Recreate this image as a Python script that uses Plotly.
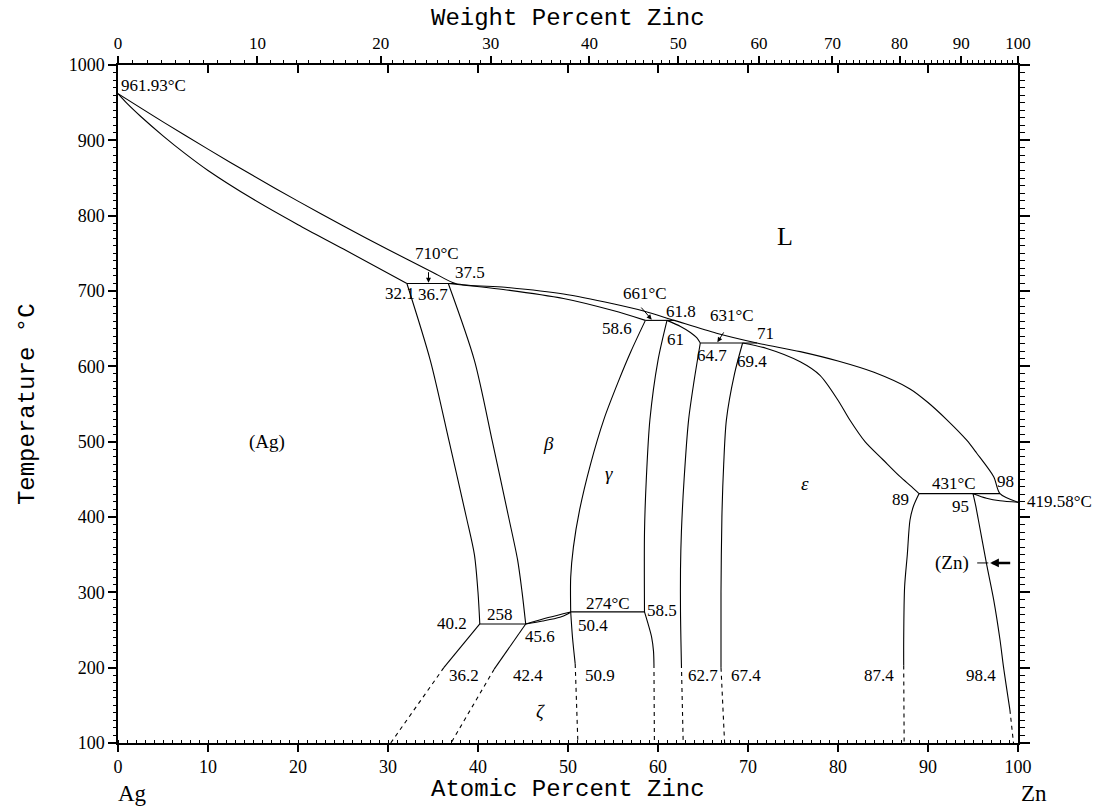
import plotly.graph_objects as go

# ---------------- data (atomic % Zn, temperature °C) ----------------
at_major = list(range(0, 101, 10))
wt_major = list(range(0, 101, 10))
wt_minor = [w for w in range(1, 100) if w % 10]

M_AG, M_ZN = 107.87, 65.38

liq_x = [0, 5, 10, 15, 20, 25, 30, 35, 37.5, 43, 49.5, 55, 58.5, 61.8, 66.5, 71, 75.8, 80, 84, 88, 90, 92.1, 94.3, 95.4, 97.3, 98, 100]
liq_T = [961.93, 924.5, 888.3, 853.2, 819.3, 786.6, 755.1, 724.7, 710, 705, 696, 683, 673, 661, 644, 631, 619.5, 607, 592, 570, 552, 529, 502, 485, 453.5, 431, 419.58]

solAg_x = [0, 1, 2.5, 5, 7.5, 10, 15, 20, 25, 32.1]
solAg_T = [961.93, 949, 932, 906, 882, 860, 822, 788, 756, 710]

solB_x = [36.7, 42.8, 49.5, 55, 58.6]
solB_T = [710, 702, 690, 674, 661]

agsolv_x = [32.1, 34.7, 36.8, 38.7, 39.6, 40.0, 40.2]
agsolv_T = [710, 608, 500, 400, 350, 300, 258]
agsolv_lo_x = [40.2, 36.2]
agsolv_lo_T = [258, 200]
agsolv_d_x = [36.2, 30.3]
agsolv_d_T = [200, 100]

bleft_x = [36.7, 39.6, 41.6, 43.4, 44.4, 44.9, 45.3]
bleft_T = [710, 608, 500, 400, 343, 300, 258]

zleft_x = [45.3, 41.8]
zleft_T = [258, 198]
zleft_d_x = [41.8, 37.0]
zleft_d_T = [198, 100]

lensU_x = [45.3, 47.8, 50.3]
lensU_T = [258, 266.5, 274]
lensL_x = [45.3, 47.2, 49.1, 49.9, 50.3]
lensL_T = [258, 262, 267, 271, 274]

bright_x = [58.6, 57.0, 55.6, 54.0, 52.5, 51.3, 50.6, 50.3, 50.3]
bright_T = [661, 620, 580, 530, 470, 410, 360, 320, 274]

zright_x = [50.3, 50.5, 50.8]
zright_T = [274, 240, 205]
zright_d_x = [50.8, 51.1]
zright_d_T = [205, 100]

gleft_x = [61.0, 60.0, 59.1, 58.7, 58.5, 58.5]
gleft_T = [661, 608, 529, 450, 380, 274]
gleft_lo_x = [58.5, 58.9, 59.3, 59.5, 59.55]
gleft_lo_T = [274, 258, 240, 222, 205]
gleft_d_x = [59.55, 59.6]
gleft_d_T = [205, 100]

gsol_x = [61.0, 62.5, 63.6, 64.3, 64.7]
gsol_T = [661, 653, 645, 638, 631]

gright_x = [64.7, 64.0, 63.4, 62.9, 62.6, 62.5, 62.5, 62.6]
gright_T = [631, 580, 529, 450, 380, 330, 274, 205]
gright_d_x = [62.6, 62.8]
gright_d_T = [205, 100]

eleft_x = [69.4, 68.5, 67.6, 67.3, 67.1, 67.0, 67.0]
eleft_T = [631, 590, 529, 470, 400, 300, 200]
eleft_d_x = [67.0, 67.4]
eleft_d_T = [200, 100]

esol_x = [69.4, 72, 75.8, 78, 80, 81.3, 83, 85, 86.9, 88.2, 89]
esol_T = [631, 624, 606, 588, 555, 529, 500, 476, 453.5, 440, 431]

eright_x = [89, 88.4, 88.0, 87.7, 87.4, 87.3, 87.3]
eright_T = [431, 415, 396, 350, 307, 237, 203]
eright_d_x = [87.3, 87.35]
eright_d_T = [203, 100]

znsol_x = [95, 96.5, 98, 100]
znsol_T = [431, 425, 421.5, 419.58]

znsolv_x = [95, 95.3, 95.6, 96.5, 97.3, 98, 98.4, 99.1]
znsolv_T = [431, 415, 396, 338, 290, 237, 200, 144]
znsolv_d_x = [99.1, 99.5]
znsolv_d_T = [144, 100]

# invariant (horizontal) lines: (x_start, x_end, T)
iso_x0 = [32.1, 40.2, 50.3, 58.6, 64.7, 89.0]
iso_x1 = [37.5, 45.3, 58.5, 61.8, 71.0, 98.0]
iso_T = [710, 258, 274, 661, 631, 431]

# composition / temperature labels
lab_text = ["961.93°C", "710°C", "32.1", "36.7", "37.5", "661°C", "61.8", "58.6", "61",
            "631°C", "71", "64.7", "69.4", "431°C", "98", "89", "95",
            "40.2", "258", "45.6", "274°C", "50.4", "58.5",
            "36.2", "42.4", "50.9", "62.7", "67.4", "87.4", "98.4"]
lab_x = [0.1, 35.4, 31.3, 35.0, 39.1, 58.5, 62.6, 55.4, 61.9,
         68.2, 71.9, 66.0, 70.4, 92.9, 98.6, 86.9, 93.6,
         37.1, 42.4, 46.9, 54.4, 52.8, 60.4,
         38.4, 45.6, 53.5, 65.0, 69.8, 84.6, 95.9]
lab_T = [973, 750, 697, 695, 724, 697, 673, 650, 635,
         668, 644, 615, 606, 444, 447, 423.5, 413.5,
         259, 270, 241, 285.5, 256.6, 276.5,
         190, 190, 190, 190, 190, 190, 190]
lab_anchor = ["left", "center", "center", "center", "center", "center", "center", "center", "center",
              "center", "center", "center", "center", "center", "center", "center", "center",
              "center", "center", "center", "center", "center", "center",
              "center", "center", "center", "center", "center", "center", "center"]

# label beyond the right axis (temperature placed on the data scale)
zn_melt_text = "419.58°C"
zn_melt_T = 420.3

# phase region labels
reg_text = ["L", "(Ag)", "<i>β</i>", "<i>γ</i>", "<i>ε</i>", "<i>ζ</i>", "(Zn)"]
reg_x = [74.1, 16.5, 47.8, 54.6, 76.3, 46.9, 92.7]
reg_T = [772, 499, 497, 458, 445, 141.5, 339]
reg_size = [26, 19, 19, 19, 19, 19, 19]

# ---------------- figure ----------------
SERIF = "Liberation Serif"
MONO = "Liberation Mono"
BLACK = "black"


def wt_to_at(w):
    if w <= 0:
        return 0.0
    if w >= 100:
        return 100.0
    a = w / M_ZN
    b = (100 - w) / M_AG
    return 100 * a / (a + b)


fig = go.Figure()


def add_line(xs, ys, dash="solid", smooth=True):
    fig.add_trace(go.Scatter(
        x=xs, y=ys, mode="lines",
        line=dict(color=BLACK, width=1.1, dash=dash,
                  shape="spline" if smooth and len(xs) > 2 else "linear",
                  smoothing=0.8),
        hoverinfo="skip", showlegend=False))


solid_curves = [(liq_x, liq_T), (solAg_x, solAg_T), (solB_x, solB_T),
                (agsolv_x, agsolv_T), (agsolv_lo_x, agsolv_lo_T),
                (bleft_x, bleft_T), (zleft_x, zleft_T),
                (lensU_x, lensU_T), (lensL_x, lensL_T),
                (bright_x, bright_T), (zright_x, zright_T),
                (gleft_x, gleft_T), (gleft_lo_x, gleft_lo_T), (gsol_x, gsol_T),
                (gright_x, gright_T), (eleft_x, eleft_T), (esol_x, esol_T),
                (eright_x, eright_T), (znsol_x, znsol_T), (znsolv_x, znsolv_T)]
for xs, ys in solid_curves:
    add_line(xs, ys)

dashed_curves = [(agsolv_d_x, agsolv_d_T), (zleft_d_x, zleft_d_T), (zright_d_x, zright_d_T),
                 (gleft_d_x, gleft_d_T), (gright_d_x, gright_d_T), (eleft_d_x, eleft_d_T),
                 (eright_d_x, eright_d_T), (znsolv_d_x, znsolv_d_T)]
for xs, ys in dashed_curves:
    add_line(xs, ys, dash="4px,4px", smooth=False)

for x0, x1, t in zip(iso_x0, iso_x1, iso_T):
    add_line([x0, x1], [t, t], smooth=False)

# dummy traces to register the extra axes
fig.add_trace(go.Scatter(x=[], y=[], xaxis="x2", yaxis="y2", showlegend=False, hoverinfo="skip"))
fig.add_trace(go.Scatter(x=[], y=[], xaxis="x3", yaxis="y", showlegend=False, hoverinfo="skip"))

annotations = []
for t, x, y, anc in zip(lab_text, lab_x, lab_T, lab_anchor):
    annotations.append(dict(text=t, x=x, y=y, xref="x", yref="y", showarrow=False,
                            xanchor=anc, yanchor="middle",
                            font=dict(family=SERIF, size=17, color=BLACK)))
annotations.append(dict(text=zn_melt_text, x=1.0075, y=zn_melt_T, xref="paper", yref="y",
                        showarrow=False, xanchor="left", yanchor="middle",
                        font=dict(family=SERIF, size=17, color=BLACK)))
for t, x, y, s in zip(reg_text, reg_x, reg_T, reg_size):
    annotations.append(dict(text=t, x=x, y=y, xref="x", yref="y", showarrow=False,
                            xanchor="center", yanchor="middle",
                            font=dict(family=SERIF, size=s, color=BLACK)))

# arrows (head, tail)
arrows = [((34.5, 711), (34.5, 727), 1, 1.0),
          ((59.3, 662), (58.0, 680), 1, 1.0),
          ((66.6, 632), (67.4, 647), 1, 1.0),
          ((96.9, 339), (99.3, 339), 2.5, 0.7)]
for (hx, hy), (tx, ty), w, s in arrows:
    annotations.append(dict(text="", x=hx, y=hy, ax=tx, ay=ty, xref="x", yref="y",
                            axref="x", ayref="y", showarrow=True, arrowhead=2,
                            arrowsize=s, arrowwidth=w, arrowcolor=BLACK))
annotations.append(dict(text="", x=96.7, y=339, ax=95.3, ay=339, xref="x", yref="y",
                        axref="x", ayref="y", showarrow=True, arrowhead=0,
                        arrowwidth=1, arrowcolor=BLACK))

# titles
annotations += [
    dict(text="Atomic Percent Zinc", x=0.5, y=-0.0693, xref="paper", yref="paper",
         showarrow=False, xanchor="center", yanchor="middle",
         font=dict(family=MONO, size=24, color=BLACK)),
    dict(text="Weight Percent Zinc", x=0.5, y=1.0693, xref="paper", yref="paper",
         showarrow=False, xanchor="center", yanchor="middle",
         font=dict(family=MONO, size=24, color=BLACK)),
    dict(text="Temperature °C", x=-0.101, y=0.5, xref="paper", yref="paper",
         showarrow=False, xanchor="center", yanchor="middle", textangle=-90,
         font=dict(family=MONO, size=24, color=BLACK)),
    dict(text="Ag", x=0.016, y=-0.074, xref="paper", yref="paper", showarrow=False,
         xanchor="center", yanchor="middle", font=dict(family=SERIF, size=23, color=BLACK)),
    dict(text="Zn", x=1.018, y=-0.074, xref="paper", yref="paper", showarrow=False,
         xanchor="center", yanchor="middle", font=dict(family=SERIF, size=23, color=BLACK)),
]

tickfont = dict(family=SERIF, size=18, color=BLACK)
fig.update_layout(
    width=1101, height=806,
    margin=dict(l=118, r=83, t=65, b=63),
    plot_bgcolor="white", paper_bgcolor="white",
    showlegend=False,
    xaxis=dict(range=[0, 100], tickmode="linear", tick0=0, dtick=10,
               ticks="outside", ticklen=7, tickwidth=1.5, tickcolor=BLACK,
               showline=True, linecolor=BLACK, linewidth=1.5, showgrid=False, zeroline=False,
               tickfont=tickfont, fixedrange=True,
               minor=dict(tick0=0, dtick=1, ticks="inside", ticklen=3, tickwidth=1, tickcolor=BLACK)),
    xaxis2=dict(range=[0, 100], overlaying="x", side="top", anchor="y",
                tickmode="array", tickvals=[wt_to_at(w) for w in wt_major],
                ticktext=[str(w) for w in wt_major],
                ticks="outside", ticklen=7, tickwidth=1.5, tickcolor=BLACK,
                showline=True, linecolor=BLACK, linewidth=1.5, showgrid=False, zeroline=False,
                tickfont=dict(family=SERIF, size=17, color=BLACK),
                minor=dict(tickmode="array", tickvals=[wt_to_at(w) for w in wt_minor],
                           ticks="outside", ticklen=3, tickwidth=1, tickcolor=BLACK)),
    xaxis3=dict(range=[0, 100], overlaying="x", side="top", anchor="y",
                tickmode="linear", tick0=0, dtick=10, ticks="inside", ticklen=8,
                tickwidth=1.5, tickcolor=BLACK, showticklabels=False,
                showline=False, showgrid=False, zeroline=False),
    yaxis=dict(range=[100, 1000], tickmode="linear", tick0=100, dtick=100,
               ticks="outside", ticklen=8, tickwidth=1.5, tickcolor=BLACK,
               showline=True, linecolor=BLACK, linewidth=1.5, showgrid=False, zeroline=False,
               tickfont=tickfont,
               minor=dict(tick0=100, dtick=10, ticks="outside", ticklen=3, tickwidth=1, tickcolor=BLACK)),
    yaxis2=dict(range=[100, 1000], overlaying="y", side="right", anchor="x",
                tickmode="linear", tick0=100, dtick=100,
                ticks="outside", ticklen=10, tickwidth=1.5, tickcolor=BLACK,
                showticklabels=False, showline=True, linecolor=BLACK, linewidth=1.5,
                showgrid=False, zeroline=False,
                minor=dict(tick0=100, dtick=10, ticks="outside", ticklen=5, tickwidth=1, tickcolor=BLACK)),
    annotations=annotations,
)

fig.write_html("out.html")
